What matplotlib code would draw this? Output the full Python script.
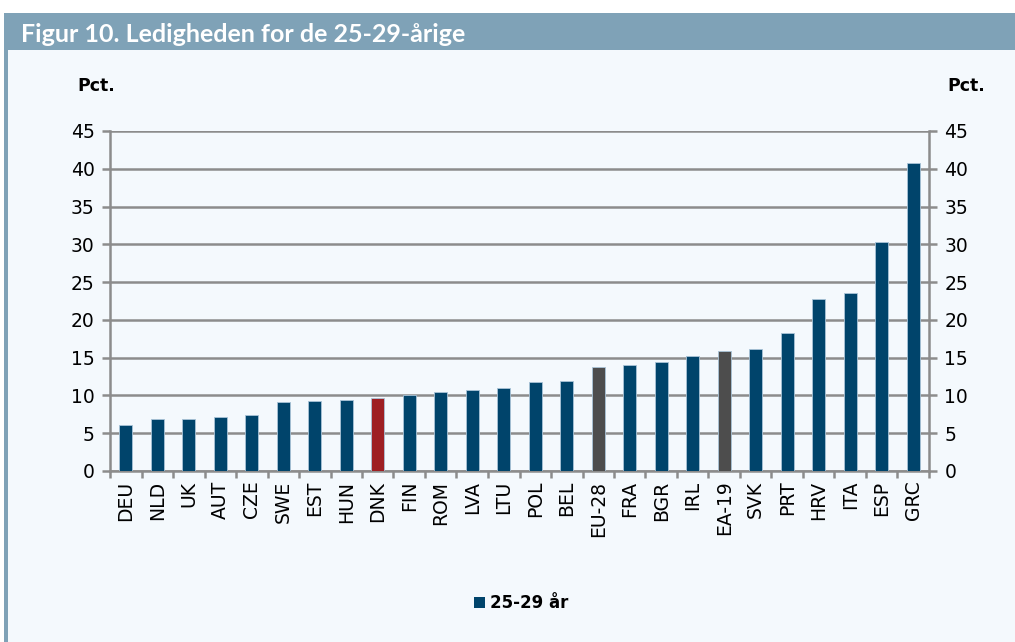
import matplotlib
matplotlib.use("Agg")
import matplotlib.pyplot as plt
from matplotlib.patches import Rectangle
import numpy as np

categories = ["DEU", "NLD", "UK", "AUT", "CZE", "SWE", "EST", "HUN", "DNK", "FIN",
              "ROM", "LVA", "LTU", "POL", "BEL", "EU-28", "FRA", "BGR", "IRL", "EA-19",
              "SVK", "PRT", "HRV", "ITA", "ESP", "GRC"]
values = [6.1, 6.9, 6.9, 7.2, 7.4, 9.1, 9.2, 9.4, 9.6, 10.1,
          10.5, 10.7, 11.0, 11.8, 11.9, 13.7, 14.0, 14.4, 15.2, 15.9,
          16.1, 18.3, 22.7, 23.6, 30.3, 40.7]
yticks = [0, 5, 10, 15, 20, 25, 30, 35, 40, 45]
title = "Figur 10. Ledigheden for de 25-29-årige"
series_label = "25-29 år"
unit = "Pct."

NAVY = "#00446b"
RED = "#9e1f23"
GREY = "#4d4d4d"
BG = "#f4f9fd"
HEADER = "#7fa2b7"
GRID = "#8c8c8c"

colors = []
for c in categories:
    if c == "DNK":
        colors.append(RED)
    elif c in ("EU-28", "EA-19"):
        colors.append(GREY)
    else:
        colors.append(NAVY)

W, H = 1015, 642
fig = plt.figure(figsize=(W / 100, H / 100), dpi=100)
fig.patch.set_facecolor("white")

# panel background and header
fig.patches.append(Rectangle((4 / W, 0), 1 - 4 / W, 1 - 13 / H, transform=fig.transFigure,
                             facecolor=BG, edgecolor="none", zorder=-3))
fig.patches.append(Rectangle((4 / W, 1 - 50 / H), 1 - 4 / W, 37 / H, transform=fig.transFigure,
                             facecolor=HEADER, edgecolor="none", zorder=-2))
fig.patches.append(Rectangle((4 / W, 0), 4 / W, 1 - 13 / H, transform=fig.transFigure,
                             facecolor=HEADER, edgecolor="none", zorder=-2))
fig.text(21 / W, 1 - 34 / H, title, color="white", fontsize=18, fontweight="bold",
         family="Lato", va="center", ha="left")

left, right, bottom, top = 110, 929, 471, 131
ax = fig.add_axes([left / W, 1 - bottom / H, (right - left) / W, (bottom - top) / H])
ax.set_facecolor(BG)
x = np.arange(len(categories))
ax.bar(x, values, width=0.4, color=colors, edgecolor="#a9c4d8", linewidth=0.6, zorder=3)
ax.set_xlim(-0.5, len(categories) - 0.5)
ax.set_ylim(0, 45)
ax.set_yticks(yticks)
ax.yaxis.grid(True, color=GRID, linewidth=1.8, zorder=0)
ax.set_axisbelow(True)

for s in ["top"]:
    ax.spines[s].set_visible(False)
for s in ["left", "right", "bottom"]:
    ax.spines[s].set_color(GRID)
    ax.spines[s].set_linewidth(1.8)

ax.tick_params(axis="y", which="both", left=True, right=True, labelleft=True, labelright=True,
               length=6, width=1.8, color=GRID, labelsize=13.5, pad=5)
ax.set_xticks(x)
ax.set_xticklabels(categories, rotation=90, fontsize=13.5)
ax.set_xticks(np.arange(-0.5, len(categories)), minor=True)
ax.tick_params(axis="x", which="major", length=0, pad=7)
ax.tick_params(axis="x", which="minor", length=5, width=1.8, color=GRID)

fig.text(96 / W, 1 - 86 / H, unit, fontsize=12.5, fontweight="bold", ha="center", va="center")
fig.text(966 / W, 1 - 86 / H, unit, fontsize=12.5, fontweight="bold", ha="center", va="center")

# legend
fig.patches.append(Rectangle((474 / W, 1 - 608 / H), 11 / W, 11 / H, transform=fig.transFigure,
                             facecolor=NAVY, edgecolor="none"))
fig.text(490 / W, 1 - 603 / H, series_label, fontsize=12, fontweight="bold",
         ha="left", va="center")

fig.savefig("out.png", dpi=100, facecolor=fig.get_facecolor())
